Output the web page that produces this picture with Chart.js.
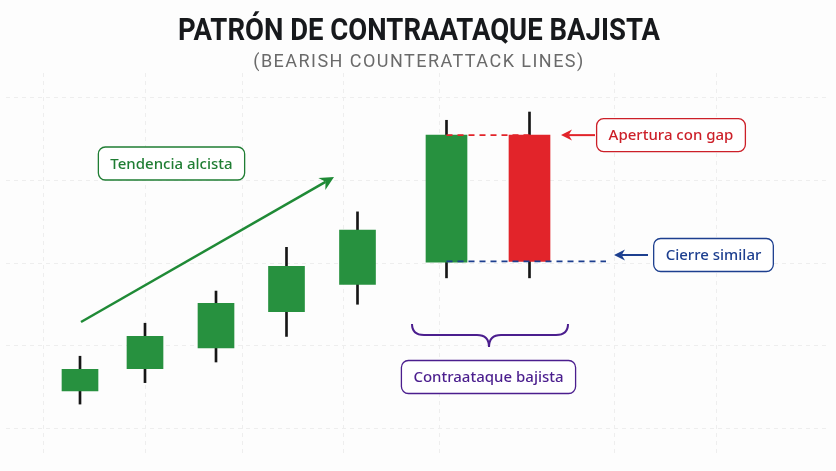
<!DOCTYPE html>
<html>
<head>
<meta charset="utf-8">
<title>Patrón de contraataque bajista</title>
<script src="https://cdn.jsdelivr.net/npm/chart.js@4.4.1/dist/chart.umd.min.js"></script>
<style>
  html, body { margin: 0; padding: 0; background: #fdfdfd; }
  #wrap { width: 836px; height: 471px; }
</style>
</head>
<body>
<div id="wrap"><canvas id="chart"></canvas></div>
<script>
// Velas de la tendencia alcista (posición en el eje x, precios)
const trendX     = [7.4, 13.9, 21.0, 28.05, 35.15];
const trendOpen  = [4.5, 7.2, 9.7, 14.1, 17.4];
const trendClose = [7.1, 11.1, 15.1, 19.6, 24.0];
const trendHigh  = [8.7, 12.7, 16.6, 21.9, 26.2];
const trendLow   = [2.9, 5.5, 8.0, 11.1, 15.0];

// Las dos velas del patrón: alcista larga + bajista con gap
const patternX     = [44.05, 52.35];
const patternOpen  = [20.1, 35.5];
const patternClose = [35.5, 20.2];
const patternHigh  = [37.3, 38.3];
const patternLow   = [18.2, 18.2];

// Líneas de la cuadrícula de fondo
const yGridValues = [0, 10, 20, 30, 40];
const xGridValues = [3.7, 13.9, 23.7, 33.7, 43.4, 60.8, 71.0];

const GREEN = '#27913f';
const RED = '#e2242a';
const WICK = '#161616';

const bodies = (xs, o, c) => xs.map((x, i) => ({ x, y: [o[i], c[i]] }));
const wicks = (xs, h, l) => xs.map((x, i) => ({ x, y: [l[i], h[i]] }));

// --- helpers de dibujo para las anotaciones ---
function arrow(ctx, x1, y1, x2, y2, color, width, head) {
  const a = Math.atan2(y2 - y1, x2 - x1);
  const cos = Math.cos(a), sin = Math.sin(a);
  ctx.save();
  ctx.strokeStyle = color;
  ctx.fillStyle = color;
  ctx.lineWidth = width;
  ctx.beginPath();
  ctx.moveTo(x1, y1);
  ctx.lineTo(x2 - cos * head * 0.7, y2 - sin * head * 0.7);
  ctx.stroke();
  ctx.beginPath();
  ctx.moveTo(x2, y2);
  ctx.lineTo(x2 - head * cos + head * 0.5 * sin, y2 - head * sin - head * 0.5 * cos);
  ctx.lineTo(x2 - head * 0.7 * cos, y2 - head * 0.7 * sin);
  ctx.lineTo(x2 - head * cos - head * 0.5 * sin, y2 - head * sin + head * 0.5 * cos);
  ctx.closePath();
  ctx.fill();
  ctx.restore();
}

function tag(ctx, text, cx, cy, color) {
  ctx.save();
  ctx.font = '500 15px "Noto Sans", sans-serif';
  const w = ctx.measureText(text).width + 24;
  const h = 33;
  ctx.beginPath();
  ctx.roundRect(cx - w / 2, cy - h / 2, w, h, 7);
  ctx.fillStyle = '#ffffff';
  ctx.fill();
  ctx.lineWidth = 1.3;
  ctx.strokeStyle = color;
  ctx.stroke();
  ctx.fillStyle = color;
  ctx.textAlign = 'center';
  ctx.textBaseline = 'middle';
  ctx.fillText(text, cx, cy + 1);
  ctx.restore();
}

function dashed(ctx, x1, x2, y, color) {
  ctx.save();
  ctx.strokeStyle = color;
  ctx.lineWidth = 1.8;
  ctx.setLineDash([6, 5]);
  ctx.beginPath();
  ctx.moveTo(x1, y);
  ctx.lineTo(x2, y);
  ctx.stroke();
  ctx.restore();
}

const backgroundPlugin = {
  id: 'fondo',
  beforeDraw(chart) {
    const ctx = chart.ctx;
    ctx.save();
    ctx.fillStyle = '#fdfdfd';
    ctx.fillRect(0, 0, chart.width, chart.height);
    ctx.restore();
  }
};

const titlePlugin = {
  id: 'titulo',
  afterDraw(chart) {
    const ctx = chart.ctx;
    const cx = 419;
    ctx.save();
    ctx.textAlign = 'center';
    ctx.textBaseline = 'alphabetic';
    // título principal, ajustado al ancho del original
    ctx.font = 'bold 31px Roboto, "DejaVu Sans", sans-serif';
    const tw = ctx.measureText('PATRÓN DE CONTRAATAQUE BAJISTA').width;
    const sx = Math.min(1, 482 / tw);
    ctx.translate(cx, 40);
    ctx.scale(sx, 1);
    ctx.fillStyle = '#17191c';
    ctx.fillText('PATRÓN DE CONTRAATAQUE BAJISTA', 0, 0);
    ctx.restore();

    ctx.save();
    ctx.textAlign = 'center';
    ctx.font = '18px Roboto, "DejaVu Sans", sans-serif';
    const sub = '(BEARISH COUNTERATTACK LINES)';
    const sw = ctx.measureText(sub).width;
    ctx.letterSpacing = Math.max(0, (330 - sw) / (sub.length - 1)) + 'px';
    ctx.fillStyle = '#6a6a6a';
    ctx.fillText(sub, cx, 67);
    ctx.restore();
  }
};

const notesPlugin = {
  id: 'notas',
  afterDatasetsDraw(chart) {
    const ctx = chart.ctx;
    const xs = chart.scales.x, ys = chart.scales.y;
    const xg = xs.getPixelForValue(patternX[0]);
    const xr = xs.getPixelForValue(patternX[1]);
    const yOpen = ys.getPixelForValue(patternOpen[1]);
    const yClose = ys.getPixelForValue(patternClose[1]);

    // apertura con gap
    dashed(ctx, xg, xr, yOpen, RED);
    arrow(ctx, 595, yOpen, 561, yOpen, RED, 2, 11);
    tag(ctx, 'Apertura con gap', 671, yOpen, '#cc1f28');

    // cierre similar
    dashed(ctx, xg, 606, yClose, '#1d3f8f');
    arrow(ctx, 648, 255, 614, 255, '#1d3f8f', 2, 11);
    tag(ctx, 'Cierre similar', 713.5, 255, '#1d3f8f');

    // tendencia alcista
    arrow(ctx, 81, 322, 334, 177, '#1f8a36', 2.5, 14);
    tag(ctx, 'Tendencia alcista', 171.5, 163.5, '#1f7d33');

    // llave bajo el patrón
    ctx.save();
    ctx.strokeStyle = '#4b1e8e';
    ctx.lineWidth = 2;
    ctx.beginPath();
    ctx.moveTo(412, 324);
    ctx.quadraticCurveTo(412, 335, 424, 335);
    ctx.lineTo(477, 335);
    ctx.quadraticCurveTo(489, 335, 489, 347);
    ctx.quadraticCurveTo(489, 335, 501, 335);
    ctx.lineTo(556, 335);
    ctx.quadraticCurveTo(568, 335, 568, 324);
    ctx.stroke();
    ctx.restore();
    tag(ctx, 'Contraataque bajista', 488.5, 377, '#4b1e8e');
  }
};

new Chart(document.getElementById('chart'), {
  type: 'bar',
  data: {
    datasets: [
      {
        label: 'Mechas tendencia',
        data: wicks(trendX, trendHigh, trendLow),
        backgroundColor: WICK,
        barThickness: 2,
        order: 3
      },
      {
        label: 'Mechas patrón',
        data: wicks(patternX, patternHigh, patternLow),
        backgroundColor: WICK,
        barThickness: 2,
        order: 3
      },
      {
        label: 'Tendencia',
        data: bodies(trendX, trendOpen, trendClose),
        backgroundColor: GREEN,
        barThickness: 36,
        order: 1
      },
      {
        label: 'Patrón',
        data: bodies(patternX, patternOpen, patternClose),
        backgroundColor: [GREEN, RED],
        barThickness: 41,
        order: 1
      }
    ]
  },
  options: {
    responsive: true,
    maintainAspectRatio: false,
    animation: false,
    grouped: false,
    layout: { padding: { left: 6, right: 8, top: 73, bottom: 17 } },
    plugins: {
      legend: { display: false },
      tooltip: { enabled: false }
    },
    scales: {
      x: {
        type: 'linear',
        min: 0,
        max: 82.2,
        offset: false,
        afterBuildTicks: (s) => { s.ticks = xGridValues.map(v => ({ value: v })); },
        ticks: { display: false },
        grid: { color: '#eeeeee', lineWidth: 1, drawTicks: false, offset: false },
        border: { display: false, dash: [4, 4] }
      },
      y: {
        type: 'linear',
        min: -3.15,
        max: 43.03,
        afterBuildTicks: (s) => { s.ticks = yGridValues.map(v => ({ value: v })); },
        ticks: { display: false },
        grid: { color: '#eeeeee', lineWidth: 1, drawTicks: false },
        border: { display: false, dash: [4, 4] }
      }
    }
  },
  plugins: [backgroundPlugin, titlePlugin, notesPlugin]
});
</script>
</body>
</html>
